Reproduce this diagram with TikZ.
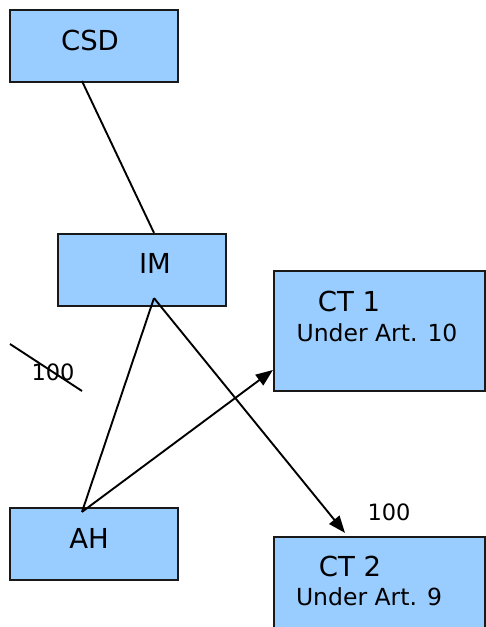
\documentclass[tikz,border=0pt]{standalone}
\usepackage{fontspec}
\setmainfont{DejaVu Sans}
\usetikzlibrary{arrows.meta}
\usetikzlibrary{calc,positioning}

\definecolor{boxblue}{HTML}{99CCFF}

\tikzset{
  entity/.style={draw=black!90, fill=boxblue, line width=2.2pt, inner sep=0pt,
    minimum width=168pt, minimum height=72pt},
  bigbox/.style={entity, minimum width=211pt, minimum height=120pt},
  boxlabel/.style={anchor=base, inner sep=0pt, font=\fontsize{27.5}{30}\selectfont},
  note/.style={anchor=base, inner sep=0pt, font=\fontsize{23.5}{26}\selectfont},
  share/.style={anchor=base, inner sep=0pt, font=\fontsize{22.5}{26}\selectfont},
  link/.style={line width=1.9pt},
}

\begin{document}
\begin{tikzpicture}[x=1pt, y=-1pt, >={Triangle[length=17pt,width=13pt]}]

    \useasboundingbox (0,0) rectangle (486,627);

    % the boxes
    \node[entity] (csd) at (94,46) {};
    \node[entity] (im) at (142,270) {};
    \node[entity] (ah) at (94,544) {};
    \node[bigbox] (ct1) at (379.5,331) {};
    \node[bigbox] (ct2) at (379.5,597) {};

    % their texts
    \node[boxlabel] (csdtext) at (90,50) {CSD};
    \node[boxlabel] (imtext) at (155,273) {IM};
    \node[boxlabel] (ahtext) at (89,548) {AH};
    \node[boxlabel] (ct1text) at (349,311.5) {CT 1};
    \node[note] (ct1art) at (377,341.5) {Under Art. 10};
    \node[boxlabel] (ct2text) at (350,576) {CT 2};
    \node[note] (ct2art) at (369,605) {Under Art. 9};

    \coordinate (imfoot) at ([xshift=12pt,yshift=9pt]im.south);
    \coordinate (ahtop) at ([xshift=-12pt,yshift=-5pt]ah.north);

    \draw[link] ([xshift=-12pt,yshift=2pt]csd.south) -- ([xshift=12pt]im.north);
    \draw[link] (imfoot) -- (ahtop);
    \draw[link, ->] (ahtop) -- ([yshift=-39pt]ct1.west);
    \draw[link, ->] (imfoot) -- ([xshift=-34.5pt,yshift=3pt]ct2.north);

    % shares
    \node[share] (share2) at (389,520) {100};
    \node[share] (share1) at (53,380) {100};
    \draw[link] (10,344) -- (82,391);

\end{tikzpicture}
\end{document}
